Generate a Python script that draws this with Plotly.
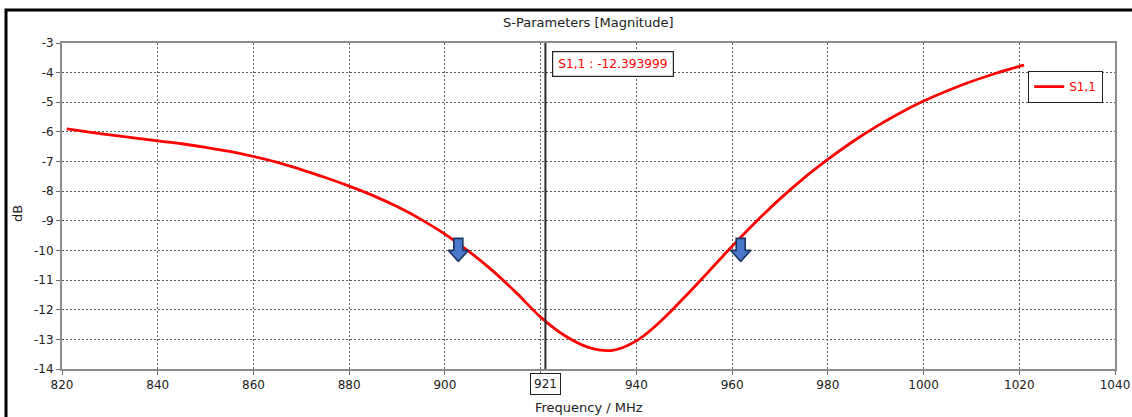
import plotly.graph_objects as go

# ---- data ----
freq_mhz = [821, 825, 830, 835, 840, 845, 850, 855, 860, 865, 870, 875, 880, 885, 890,
            895, 900, 905, 910, 915, 920, 925, 930, 935, 940, 945, 950, 955, 960, 965,
            970, 975, 980, 985, 990, 995, 1000, 1005, 1010, 1015, 1020, 1021]
s11_db = [-5.90, -5.99, -6.10, -6.20, -6.30, -6.40, -6.52, -6.66, -6.83, -7.03, -7.27,
          -7.54, -7.83, -8.15, -8.52, -8.95, -9.45, -10.03, -10.69, -11.44, -12.25,
          -12.87, -13.27, -13.37, -13.05, -12.40, -11.59, -10.73, -9.86, -9.03, -8.26,
          -7.56, -6.93, -6.35, -5.83, -5.37, -4.96, -4.61, -4.30, -4.03, -3.79, -3.75]

x_ticks = [820, 840, 860, 880, 900, 920, 940, 960, 980, 1000, 1020, 1040]
x_tick_text = ["820", "840", "860", "880", "900", "", "940", "960", "980", "1000", "1020", "1040"]
y_ticks = [-14, -13, -12, -11, -10, -9, -8, -7, -6, -5, -4, -3]
y_tick_text = ["-14", "-13", "-12", "-11", "-10", "-9", "-8", "-7", "-6", "-5", "-4", "-3"]

marker_freq = 921
marker_label = "S1,1 : -12.393999"
bw_arrow_freq = [902.8, 961.8]
bw_arrow_level = [-10.37, -10.37]

X_RANGE = [820, 1040]
Y_RANGE = [-14, -3]

# ---- layout geometry ----
W, H = 1132, 417
ML, MR, MT, MB = 62, 17, 43, 48
PW, PH = W - ML - MR, H - MT - MB
mhz_per_px = (X_RANGE[1] - X_RANGE[0]) / PW
db_per_px = (Y_RANGE[1] - Y_RANGE[0]) / PH

FONT = "DejaVu Sans"

fig = go.Figure()

fig.add_trace(go.Scatter(
    x=freq_mhz, y=s11_db, mode="lines", name="S1,1",
    line=dict(color="#ff0000", width=2.8, shape="spline", smoothing=1.0),
))

# block arrows marking the -10 dB points
arrow_px = [(0, 0), (-10, 11), (-4.5, 11), (-4.5, 23), (4.5, 23), (4.5, 11), (10, 11), (0, 0)]
for f, lv in zip(bw_arrow_freq, bw_arrow_level):
    ax = [f + px * mhz_per_px for px, py in arrow_px]
    ay = [lv + py * db_per_px for px, py in arrow_px]
    fig.add_trace(go.Scatter(
        x=ax, y=ay, mode="lines", fill="toself", fillcolor="#4a78cc",
        line=dict(color="#1c3560", width=1.6), showlegend=False, hoverinfo="skip",
    ))

shapes = [
    # marker line
    dict(type="line", xref="x", yref="paper", x0=marker_freq, x1=marker_freq, y0=0, y1=1,
         line=dict(color="#2a2a2a", width=2)),
    # outer frame
    dict(type="rect", xref="paper", yref="paper",
         x0=(6 - ML) / PW, x1=(1145 - ML) / PW,
         y0=(H - MB - 430) / PH, y1=(H - MB - 10) / PH,
         line=dict(color="#000000", width=3), layer="above"),
]

annotations = [
    dict(text="S-Parameters [Magnitude]", xref="paper", yref="paper", x=0.5,
         y=(H - MB - 23) / PH, xanchor="center", yanchor="middle", showarrow=False,
         font=dict(family=FONT, size=13, color="#202020")),
    dict(text="Frequency / MHz", xref="paper", yref="paper", x=0.5,
         y=(H - MB - 407) / PH, xanchor="center", yanchor="middle", showarrow=False,
         font=dict(family=FONT, size=13, color="#202020")),
    dict(text="dB", xref="paper", yref="paper", x=(17 - ML) / PW,
         y=(H - MB - 214) / PH, xanchor="center", yanchor="middle", showarrow=False,
         textangle=-90, font=dict(family=FONT, size=13, color="#202020")),
    dict(text=marker_label, xref="x", yref="paper", x=marker_freq, xshift=7,
         y=(H - MB - 64) / PH, xanchor="left", yanchor="middle", showarrow=False,
         bgcolor="#ffffff", bordercolor="#222222", borderwidth=1.2, borderpad=5,
         font=dict(family=FONT, size=12.2, color="#ff0000")),
    dict(text=str(marker_freq), xref="x", yref="paper", x=marker_freq,
         y=(H - MB - 384) / PH, xanchor="center", yanchor="middle", showarrow=False,
         bgcolor="#ffffff", bordercolor="#222222", borderwidth=1, borderpad=3,
         font=dict(family=FONT, size=12, color="#202020")),
]

axis_common = dict(
    showline=True, linecolor="#8c8c8c", linewidth=2, mirror=True,
    showgrid=True, gridcolor="#5a5a5a", gridwidth=1, griddash="2px,2px",
    ticks="outside", ticklen=4, tickcolor="#6a6a6a", tickwidth=1,
    tickfont=dict(family=FONT, size=12, color="#202020"),
    zeroline=False, fixedrange=True,
)

fig.update_layout(
    width=W, height=H,
    margin=dict(l=ML, r=MR, t=MT, b=MB, autoexpand=False),
    paper_bgcolor="#ffffff", plot_bgcolor="#ffffff",
    showlegend=True,
    legend=dict(x=(1103 - ML) / PW, y=(H - MB - 71) / PH, xanchor="right", yanchor="top",
                bgcolor="#ffffff", bordercolor="#222222", borderwidth=1.2,
                font=dict(family=FONT, size=12, color="#ff0000"),
                itemwidth=30, tracegroupgap=0),
    xaxis=dict(range=X_RANGE, tickvals=x_ticks, ticktext=x_tick_text, **axis_common),
    yaxis=dict(range=Y_RANGE, tickvals=y_ticks, ticktext=y_tick_text, **axis_common),
    shapes=shapes,
    annotations=annotations,
    font=dict(family=FONT),
)

fig.write_html("out.html")
